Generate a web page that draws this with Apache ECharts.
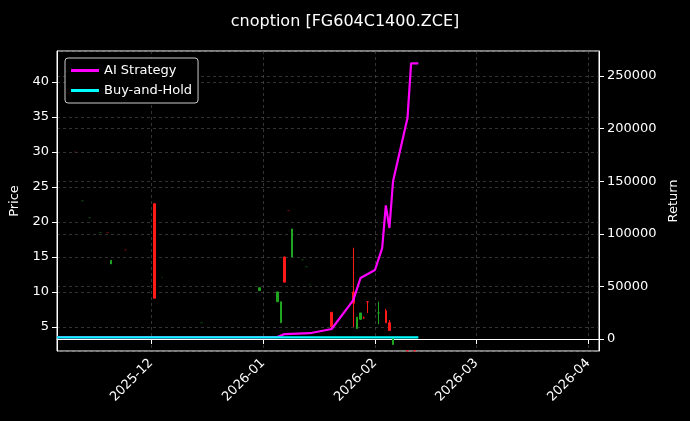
<!DOCTYPE html>
<html>
<head>
<meta charset="utf-8">
<script src="https://cdn.jsdelivr.net/npm/echarts@6/dist/echarts.min.js"></script>
<style>
  html, body { margin: 0; padding: 0; background: #000; }
  #chart { width: 690px; height: 421px; }
</style>
</head>
<body>
<div id="chart"></div>
<script>
// candles: [date, open, close, low, high], dim = faint marks
const candleDates = ['2025-11-10', '2025-11-12', '2025-11-14', '2025-11-17', '2025-11-19', '2025-11-20',
  '2025-11-24', '2025-12-02', '2025-12-04', '2025-12-15', '2025-12-31', '2026-01-05', '2026-01-06',
  '2026-01-07', '2026-01-08', '2026-01-09', '2026-01-12', '2026-01-13', '2026-01-14', '2026-01-20',
  '2026-01-26', '2026-01-27', '2026-01-28', '2026-01-29', '2026-01-30', '2026-02-02', '2026-02-04',
  '2026-02-05', '2026-02-06', '2026-02-09', '2026-02-10', '2026-02-12'];
const candleOpen = [30, 23, 20.6, 18.5, 18.5, 14.5, 16, 9.1, 12.1, 5.6, 10.6, 10, 8.6,
  11.4, 21.6, 19, 14.6, 13.6, 11.1, 5, 8.4, 6.4, 7, 6.3, 8.6, 7, 5.6, 4.5, 3.4, 1.6, 1.6, 1.6];
const candleClose = [30, 23, 20.6, 18.5, 18.5, 14, 16, 22.6, 12.1, 5.6, 10.2, 8.6, 5.6,
  15, 21.6, 15, 14.6, 13.6, 11.1, 7.1, 10, 4.8, 6.1, 6.3, 8.6, 7, 7.3, 5.6, 2.5, 1.6, 1.6, 1.6];
const candleLow = [30, 23, 20.6, 18.5, 18.5, 14, 16, 9.1, 12.1, 5.6, 10.2, 8.6, 5.6,
  11.4, 21.6, 15, 14.6, 13.6, 11.1, 5, 5, 4.7, 6, 6.2, 7, 5.4, 5.6, 4.5, 2.5, 1.6, 1.6, 1.6];
const candleHigh = [30, 23, 20.6, 18.5, 18.5, 14.5, 16, 22.6, 12.1, 5.6, 10.6, 10, 8.6,
  15, 21.6, 19, 14.6, 13.6, 11.1, 7.1, 16.3, 6.4, 7, 6.5, 8.6, 8.6, 7.6, 6, 3.4, 1.6, 1.6, 1.6];
const candleDim = [1, 1, 1, 1, 1, 0, 1, 0, 1, 1, 0, 0, 0,
  0, 1, 0, 1, 1, 1, 0, 0, 0, 0, 0, 0, 0, 0, 0, 0, 1, 0, 0];

const priceTicks = [5, 10, 15, 20, 25, 30, 35, 40];

const aiDates = ['2025-11-05', '2026-01-05', '2026-01-07', '2026-01-14', '2026-01-20', '2026-01-26',
  '2026-01-28', '2026-02-01', '2026-02-03', '2026-02-04', '2026-02-05', '2026-02-06', '2026-02-10',
  '2026-02-11', '2026-02-13'];
const aiReturn = [1800, 1800, 4700, 5500, 9500, 37000, 58000, 65600, 86500, 127000, 105500, 150000,
  210000, 262000, 262000];

const bhDates = ['2025-11-05', '2026-02-13'];
const bhReturn = [1500, 1500];

const candleData = candleDates.map((d, i) => {
  const item = { value: [d, candleOpen[i], candleClose[i], candleLow[i], candleHigh[i]] };
  if (candleDim[i]) item.itemStyle = { opacity: 0.3 };
  return item;
});

const chart = echarts.init(document.getElementById('chart'));
const font = 'DejaVu Sans';
const gridLine = { show: true, lineStyle: { color: '#555', type: [3, 3], width: 0.6 } };

chart.setOption({
  backgroundColor: '#000',
  animation: false,
  textStyle: { fontFamily: font, color: '#fff' },
  title: {
    text: 'cnoption [FG604C1400.ZCE]', left: 'center', top: 9,
    textStyle: { color: '#fff', fontFamily: font, fontSize: 16, fontWeight: 'normal' }
  },
  legend: {
    left: 65, top: 58, orient: 'vertical', itemGap: 7,
    itemWidth: 28, itemHeight: 3,
    backgroundColor: '#000', borderColor: '#ccc', borderWidth: 1, borderRadius: 3, padding: [6, 6],
    textStyle: { color: '#fff', fontSize: 13, fontFamily: font },
    data: [
      { name: 'AI Strategy', icon: 'rect' },
      { name: 'Buy-and-Hold', icon: 'rect' }
    ]
  },
  grid: { left: 57, right: 91, top: 51, bottom: 70, show: true, borderColor: '#fff', borderWidth: 1 },
  xAxis: {
    type: 'time',
    min: '2025-11-05', max: '2026-04-04',
    minInterval: 28 * 86400000, maxInterval: 31 * 86400000,
    axisLine: { lineStyle: { color: '#fff' } },
    axisTick: { show: true, lineStyle: { color: '#fff' } },
    axisLabel: { color: '#fff', fontSize: 13, rotate: 45, margin: 10, formatter: '{yyyy}-{MM}', hideOverlap: false },
    splitLine: gridLine
  },
  yAxis: [
    {
      type: 'value', min: 1.57, max: 44.4,
      name: 'Price', nameLocation: 'middle', nameGap: 34,
      nameTextStyle: { color: '#fff', fontSize: 13 },
      axisLine: { show: true, lineStyle: { color: '#fff' } },
      axisTick: { show: true, customValues: priceTicks },
      axisLabel: { color: '#fff', fontSize: 13, customValues: priceTicks },
      splitLine: gridLine
    },
    {
      type: 'value', min: -11400, max: 273800,
      name: 'Return', nameLocation: 'middle', nameGap: 68, nameRotate: 90,
      nameTextStyle: { color: '#fff', fontSize: 13 },
      axisLine: { show: true, lineStyle: { color: '#fff' } },
      axisTick: { show: true },
      axisLabel: { color: '#fff', fontSize: 13, showMinLabel: false, showMaxLabel: false,
        formatter: v => (v % 50000 === 0 ? v : '') },
      splitLine: gridLine
    }
  ],
  series: [
    {
      type: 'candlestick', yAxisIndex: 0, barWidth: 2,
      itemStyle: { color: '#ff1a1a', color0: '#1fa51f', borderColor: '#ff1a1a', borderColor0: '#1fa51f', borderWidth: 1 },
      data: candleData
    },
    {
      name: 'AI Strategy', type: 'line', yAxisIndex: 1, showSymbol: false,
      lineStyle: { color: '#ff00ff', width: 2.2 }, itemStyle: { color: '#ff00ff' },
      data: aiDates.map((d, i) => [d, aiReturn[i]])
    },
    {
      name: 'Buy-and-Hold', type: 'line', yAxisIndex: 1, showSymbol: false,
      lineStyle: { color: '#00ffff', width: 2.2 }, itemStyle: { color: '#00ffff' },
      data: bhDates.map((d, i) => [d, bhReturn[i]])
    }
  ]
});
</script>
</body>
</html>
